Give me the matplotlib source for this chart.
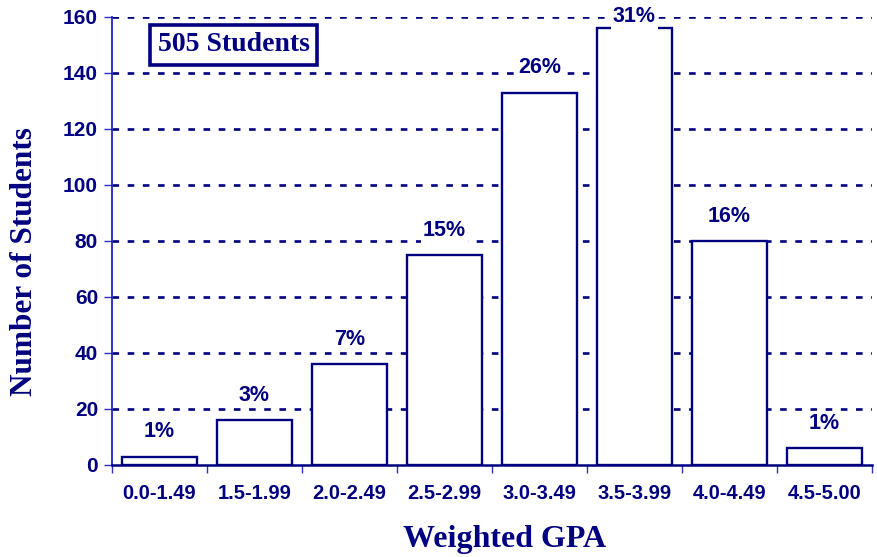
import numpy as np
import matplotlib.pyplot as plt

# GPA ranges and student counts
gpa_ranges = ['0.0-1.49', '1.5-1.99', '2.0-2.49', '2.5-2.99',
              '3.0-3.49', '3.5-3.99', '4.0-4.49', '4.5-5.00']
counts = [3, 16, 36, 75, 133, 156, 80, 6]
pct_labels = ['1%', '3%', '7%', '15%', '26%', '31%', '16%', '1%']
y_ticks = [0, 20, 40, 60, 80, 100, 120, 140, 160]

navy = '#000080'

fig = plt.figure(figsize=(8.77, 5.57), dpi=100)
ax = fig.add_axes([0.1277, 0.1652, 0.9943 - 0.1277, 0.9695 - 0.1652])

x = np.arange(len(gpa_ranges))

# dashed gridlines
for yv in y_ticks[1:]:
    ax.axhline(yv, color=navy, lw=1.9, ls=(0, (2.5, 3.25)), zorder=1)

ax.bar(x, counts, width=0.78, facecolor='white', edgecolor=navy,
       linewidth=1.7, zorder=2)

for xi, v, lab in zip(x, counts, pct_labels):
    ly = min(v + 8.8, 160)
    ax.text(xi, ly, lab, ha='center', va='center', fontsize=15.5,
            fontweight='bold', color=navy, family='Liberation Sans',
            bbox=dict(facecolor='white', edgecolor='none', pad=1.5),
            zorder=4, clip_on=False)

ax.set_xlim(-0.5, len(gpa_ranges) - 0.5)
ax.set_ylim(0, 160)

ax.set_xticks(x)
ax.set_xticklabels(gpa_ranges)
ax.set_xticks(np.arange(len(gpa_ranges) + 1) - 0.5, minor=True)
ax.tick_params(axis='x', which='major', length=0, pad=14, labelsize=14.5,
               labelcolor=navy)
ax.tick_params(axis='x', which='minor', length=6, width=1, color='#3030c0',
               direction='out')
ax.set_yticks(y_ticks)
ax.tick_params(axis='y', length=6, width=1, color='#3030c0', pad=4,
               labelsize=15, labelcolor=navy)
for t in ax.get_xticklabels() + ax.get_yticklabels():
    t.set_fontweight('bold')
    t.set_family('Liberation Sans')

for s in ['top', 'right']:
    ax.spines[s].set_visible(False)
ax.spines['left'].set_color('#2020d0')
ax.spines['left'].set_linewidth(1.3)
ax.spines['bottom'].set_color(navy)
ax.spines['bottom'].set_linewidth(1.8)
ax.spines['bottom'].set_zorder(3)

ax.set_xlabel('Weighted GPA', fontsize=23, fontweight='bold',
              family='Liberation Serif', color=navy)
ax.xaxis.set_label_coords(0.516, -0.167)
ax.xaxis.label.set_va('center')
ax.set_ylabel('Number of Students', fontsize=22.5, fontweight='bold',
              family='Liberation Serif', color=navy)
ax.yaxis.set_label_coords(-0.115, 0.453)
ax.yaxis.label.set_va('center')

ax.text(0.16, 0.9375, '505 Students', transform=ax.transAxes,
        ha='center', va='center', fontsize=20, fontweight='bold',
        family='Liberation Serif', color=navy, zorder=5,
        bbox=dict(facecolor='white', edgecolor=navy, linewidth=2.6,
                  boxstyle='square,pad=0.28'))

fig.savefig('out.png', dpi=100)
